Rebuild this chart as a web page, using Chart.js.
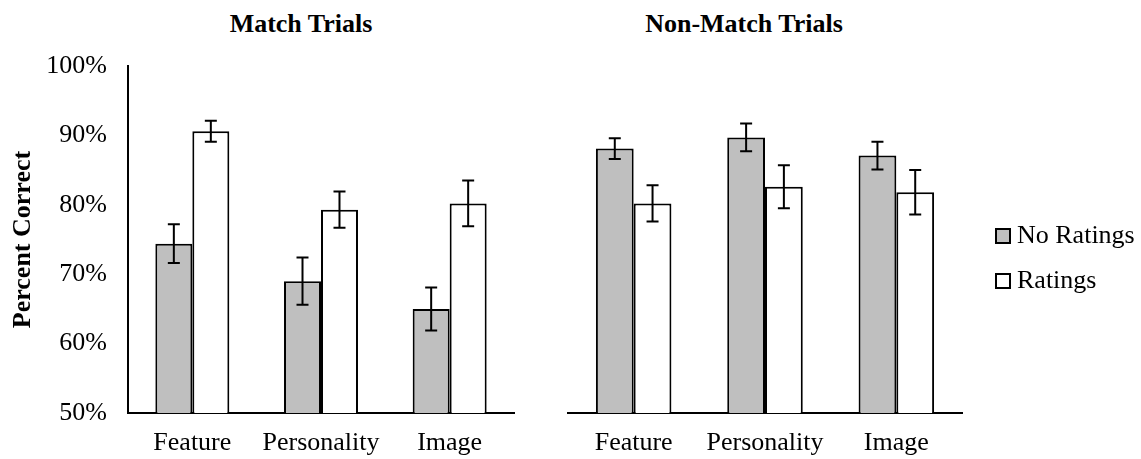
<!DOCTYPE html>
<html>
<head>
<meta charset="utf-8">
<script src="https://cdn.jsdelivr.net/npm/chart.js@4"></script>
<style>
  html, body { margin: 0; padding: 0; background: #fff; overflow: hidden; }
  #wrap { position: relative; width: 1141px; height: 459px; overflow: hidden; }
  canvas { position: absolute; top: 0; }
  .heading {
    position: absolute; top: 11px; width: 300px; text-align: center;
    font-family: 'Liberation Serif', 'Times New Roman', serif;
    font-weight: bold; font-size: 26px; line-height: 26px; color: #000;
  }
</style>
</head>
<body>
<div id="wrap">
  <div class="heading" style="left:151px">Match Trials</div>
  <div class="heading" style="left:594px">Non-Match Trials</div>
  <canvas id="matchChart" width="540" height="459" style="left:0"></canvas>
  <canvas id="nonMatchChart" width="601" height="459" style="left:540px"></canvas>
</div>
<script>
// Stimulus types on the x axis
const categories = ['Feature', 'Personality', 'Image'];
const seriesNames = ['No Ratings', 'Ratings'];

// Percent correct (means) and standard errors
const matchNoRatings      = [74.4, 69.0, 65.0];
const matchNoRatingsErr   = [2.8, 3.4, 3.1];
const matchRatings        = [90.6, 79.3, 80.2];
const matchRatingsErr     = [1.5, 2.6, 3.3];

const nonMatchNoRatings    = [88.1, 89.7, 87.1];
const nonMatchNoRatingsErr = [1.5, 2.0, 2.0];
const nonMatchRatings      = [80.2, 82.6, 81.8];
const nonMatchRatingsErr   = [2.6, 3.1, 3.2];

// Y-axis tick values (percent)
const percentTicks = [50, 60, 70, 80, 90, 100];

const FONT = "'Liberation Serif', 'Times New Roman', serif";
const GREY = '#bfbfbf';

// Draws +/- error whiskers with caps on each bar, via the chart's scales
const errorBars = {
  id: 'errorBars',
  afterDatasetsDraw(chart) {
    const ctx = chart.ctx;
    const yScale = chart.scales.y;
    ctx.save();
    ctx.strokeStyle = '#000';
    ctx.lineWidth = 2;
    chart.data.datasets.forEach((ds, i) => {
      const meta = chart.getDatasetMeta(i);
      meta.data.forEach((bar, j) => {
        const v = ds.data[j], e = ds.errors[j];
        const top = yScale.getPixelForValue(v + e);
        const bot = yScale.getPixelForValue(v - e);
        const x = bar.x, cap = 6;
        ctx.beginPath();
        ctx.moveTo(x, top); ctx.lineTo(x, bot);
        ctx.moveTo(x - cap, top); ctx.lineTo(x + cap, top);
        ctx.moveTo(x - cap, bot); ctx.lineTo(x + cap, bot);
        ctx.stroke();
      });
    });
    ctx.restore();
  }
};

function makeDatasets(noR, noRErr, r, rErr) {
  return [
    { label: seriesNames[0], data: noR, errors: noRErr, backgroundColor: GREY,
      borderColor: '#000', borderWidth: 2, categoryPercentage: 0.575, barPercentage: 1.0 },
    { label: seriesNames[1], data: r, errors: rErr, backgroundColor: '#fff',
      borderColor: '#000', borderWidth: 2, categoryPercentage: 0.575, barPercentage: 1.0 }
  ];
}

function yScaleOptions(show) {
  return {
    display: show,
    min: 50, max: 100,
    afterBuildTicks: s => { s.ticks = percentTicks.map(v => ({ value: v })); },
    afterFit: s => { if (show) s.width = 128; },
    grid: { display: false, drawTicks: false },
    border: { display: show, color: '#000', width: 2 },
    ticks: { padding: 21, color: '#000', font: { family: FONT, size: 26 },
             callback: v => v + '%' },
    title: { display: show, text: 'Percent Correct', color: '#000',
             font: { family: FONT, size: 26, weight: 'bold' }, padding: { top: 8, bottom: 0 } }
  };
}

const xScaleOptions = {
  afterFit: s => { s.height = 46; },
  grid: { display: false, drawTicks: false },
  border: { display: true, color: '#000', width: 2 },
  ticks: { padding: 15, color: '#000', font: { family: FONT, size: 26 } }
};

// empty strip used only to space the layout
function spacer(position, size, shown) {
  return { type: 'linear', position, display: shown,
           grid: { display: false, drawTicks: false }, border: { display: false },
           ticks: { display: false },
           afterFit: s => { if (position === 'top') s.height = size; else s.width = size; } };
}

Chart.defaults.animation = false;

new Chart(document.getElementById('matchChart'), {
  type: 'bar',
  data: { labels: categories,
          datasets: makeDatasets(matchNoRatings, matchNoRatingsErr, matchRatings, matchRatingsErr) },
  options: {
    responsive: false,
    layout: { padding: { left: 0, right: 26, top: 66, bottom: 0 } },
    plugins: { legend: { display: false }, tooltip: { enabled: false } },
    scales: { x: xScaleOptions, y: yScaleOptions(true) }
  },
  plugins: [errorBars]
});

new Chart(document.getElementById('nonMatchChart'), {
  type: 'bar',
  data: { labels: categories,
          datasets: makeDatasets(nonMatchNoRatings, nonMatchNoRatingsErr, nonMatchRatings, nonMatchRatingsErr) },
  options: {
    responsive: false,
    layout: { padding: { left: 28, right: 0, top: 58, bottom: 0 } },
    plugins: {
      tooltip: { enabled: false },
      legend: {
        position: 'right', align: 'center', maxWidth: 158,
        labels: { color: '#000', font: { family: FONT, size: 26 },
                  usePointStyle: true, pointStyle: 'rect', boxWidth: 2, boxHeight: 14, padding: 19 }
      }
    },
    scales: {
      x: xScaleOptions,
      y: yScaleOptions(false),
      gapTop: spacer('top', 8, true),
      gapRight: spacer('right', 21, false)
    }
  },
  plugins: [errorBars]
});
</script>
</body>
</html>
